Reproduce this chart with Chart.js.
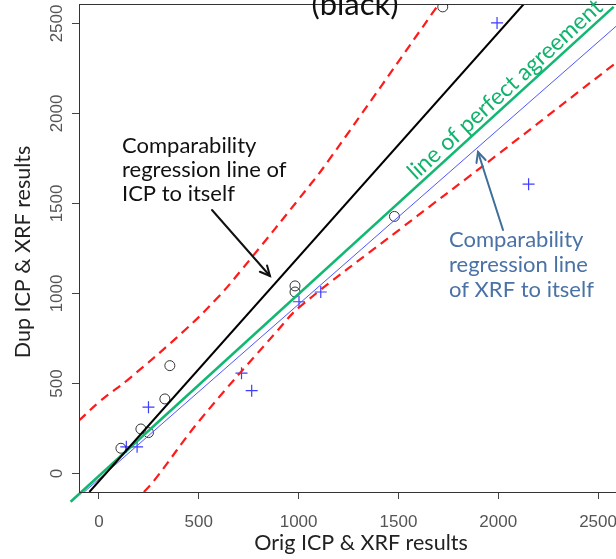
<!DOCTYPE html>
<html>
<head>
<meta charset="utf-8">
<script src="https://cdn.jsdelivr.net/npm/chart.js@4.4.0/dist/chart.umd.min.js"></script>
<style>
  html,body{margin:0;padding:0;background:#fff;overflow:hidden;width:616px;height:559px}
  canvas{display:block}
</style>
</head>
<body>
<canvas id="chart" width="638" height="559"></canvas>
<script>
// tick labels
const xTicks = [0, 500, 1000, 1500, 2000, 2500];
const yTicks = [0, 500, 1000, 1500, 2000, 2500];

// ICP duplicates (open circles)
const icpOrig = [110, 210, 248, 330, 355, 982, 982, 1480, 1722];
const icpDup  = [140, 247, 227, 414, 599, 1042, 1008, 1428, 2592];

// XRF duplicates (blue crosses)
const xrfOrig = [137, 191, 248, 714, 765, 1002, 1111, 1994, 2152];
const xrfDup  = [148, 148, 368, 557, 460, 954, 1008, 2503, 1607];

// regression lines, read at their ends
const icpFitX = [-48, 2128];
const icpFitY = [-103, 2608];
const xrfFitX = [-74, 2700];
const xrfFitY = [-103, 2591];
const perfectX = [-142, 2578];
const perfectY = [-157, 2592];

// red dashed band
const upperX = [-100, 3, 155, 431, 589, 706, 1059, 1146, 1693, 1712];
const upperY = [294, 399, 530, 797, 970, 1120, 1605, 1732, 2593, 2625];
const lowerX = [225, 279, 506, 897, 1007, 1509, 1994, 2587, 2700];
const lowerY = [-103, -36, 297, 797, 927, 1358, 1769, 2279, 2375];

const pts = (xs, ys) => xs.map((x, i) => ({x: x, y: ys[i]}));

const callout = '"Lato", "Open Sans", sans-serif';
const tickFont = '"Liberation Sans Narrow", "Liberation Sans", sans-serif';

function arrow(ctx, x1, y1, x2, y2, color, w, head){
  const ang = Math.atan2(y2 - y1, x2 - x1);
  ctx.strokeStyle = color; ctx.lineWidth = w; ctx.lineCap = 'round';
  ctx.beginPath(); ctx.moveTo(x1, y1); ctx.lineTo(x2, y2); ctx.stroke();
  ctx.beginPath();
  ctx.moveTo(x2 - head*Math.cos(ang - 0.45), y2 - head*Math.sin(ang - 0.45));
  ctx.lineTo(x2, y2);
  ctx.lineTo(x2 - head*Math.cos(ang + 0.45), y2 - head*Math.sin(ang + 0.45));
  ctx.stroke();
}

const overlay = {
  id: 'overlay',
  afterDraw(chart){
    const ctx = chart.ctx, a = chart.chartArea;
    const xs = chart.scales.x, ys = chart.scales.y;
    ctx.save();
    ctx.strokeStyle = '#333'; ctx.lineWidth = 1;
    ctx.strokeRect(Math.round(a.left) + 0.5, Math.round(a.top) + 0.5, a.right - a.left, a.bottom - a.top);

    // tick labels
    ctx.fillStyle = '#555';
    ctx.font = '17px ' + tickFont;
    ctx.textAlign = 'center'; ctx.textBaseline = 'alphabetic';
    xTicks.forEach(v => ctx.fillText(String(v), xs.getPixelForValue(v), 527));
    yTicks.forEach(v => {
      ctx.save(); ctx.translate(62, ys.getPixelForValue(v)); ctx.rotate(-Math.PI/2);
      ctx.fillText(String(v), 0, 0); ctx.restore();
    });

    // axis titles
    ctx.fillStyle = '#222';
    ctx.font = '21.5px ' + callout;
    ctx.fillText('Orig ICP & XRF results', 361, 550);
    ctx.save(); ctx.translate(30, 252); ctx.rotate(-Math.PI/2);
    ctx.fillText('Dup ICP & XRF results', 0, 0); ctx.restore();

    // clipped title
    ctx.fillStyle = '#111';
    ctx.font = '31px ' + callout;
    ctx.fillText('(black)', 355, 15);

    // ICP callout
    ctx.textAlign = 'left';
    ctx.font = '22px ' + callout;
    ['Comparability', 'regression line of', 'ICP to itself'].forEach((t, i) => ctx.fillText(t, 122, 153 + i*24));
    arrow(ctx, 212, 210, 270, 276, '#111', 2, 11);

    // XRF callout
    ctx.fillStyle = '#4a72a6';
    ['Comparability', 'regression line', 'of XRF to itself'].forEach((t, i) => ctx.fillText(t, 449, 247 + i*25));
    arrow(ctx, 503, 230, 478, 152, '#3f6e99', 2, 11);

    // perfect agreement label
    ctx.fillStyle = '#10b36c';
    ctx.font = '23px ' + callout;
    ctx.textAlign = 'center';
    ctx.save(); ctx.translate(510, 95); ctx.rotate(-Math.atan(0.9127));
    ctx.fillText('line of perfect agreement', 0, 0); ctx.restore();
    ctx.restore();
  }
};

const lineSet = (data, color, width, extra) => Object.assign({
  type: 'line', data: data, borderColor: color, borderWidth: width,
  pointRadius: 0, fill: false, showLine: true
}, extra || {});

new Chart(document.getElementById('chart'), {
  type: 'scatter',
  data: {
    datasets: [
      lineSet(pts(upperX, upperY), '#ff1a1a', 2.2, {borderDash: [9, 6], tension: 0.4}),
      lineSet(pts(lowerX, lowerY), '#ff1a1a', 2.2, {borderDash: [9, 6], tension: 0.4}),
      lineSet(pts(icpFitX, icpFitY), '#000', 2),
      lineSet(pts(xrfFitX, xrfFitY), '#4d55ff', 1),
      lineSet(pts(perfectX, perfectY), '#12b872', 2.6, {clip: false}),
      {data: pts(icpOrig, icpDup), pointStyle: 'circle', pointRadius: 5, borderColor: '#333', borderWidth: 1, backgroundColor: 'rgba(0,0,0,0)'},
      {data: pts(xrfOrig, xrfDup), pointStyle: 'cross', pointRadius: 6, borderColor: '#3d3dff', borderWidth: 1.2}
    ]
  },
  options: {
    responsive: false,
    animation: false,
    events: [],
    layout: {autoPadding: false, padding: {left: 0, right: 0, top: 4, bottom: 0}},
    plugins: {legend: {display: false}, tooltip: {enabled: false}},
    scales: {
      x: {
        type: 'linear', min: -100, max: 2700,
        afterBuildTicks: s => { s.ticks = xTicks.map(v => ({value: v})); },
        afterFit: s => { s.height = 67; },
        ticks: {display: false},
        grid: {drawOnChartArea: false, drawTicks: true, tickLength: 7, color: '#444'},
        border: {display: false}
      },
      y: {
        type: 'linear', min: -103, max: 2608,
        afterBuildTicks: s => { s.ticks = yTicks.map(v => ({value: v})); },
        afterFit: s => { s.width = 79; },
        ticks: {display: false},
        grid: {drawOnChartArea: false, drawTicks: true, tickLength: 7, color: '#444'},
        border: {display: false}
      }
    }
  },
  plugins: [overlay]
});
</script>
</body>
</html>
